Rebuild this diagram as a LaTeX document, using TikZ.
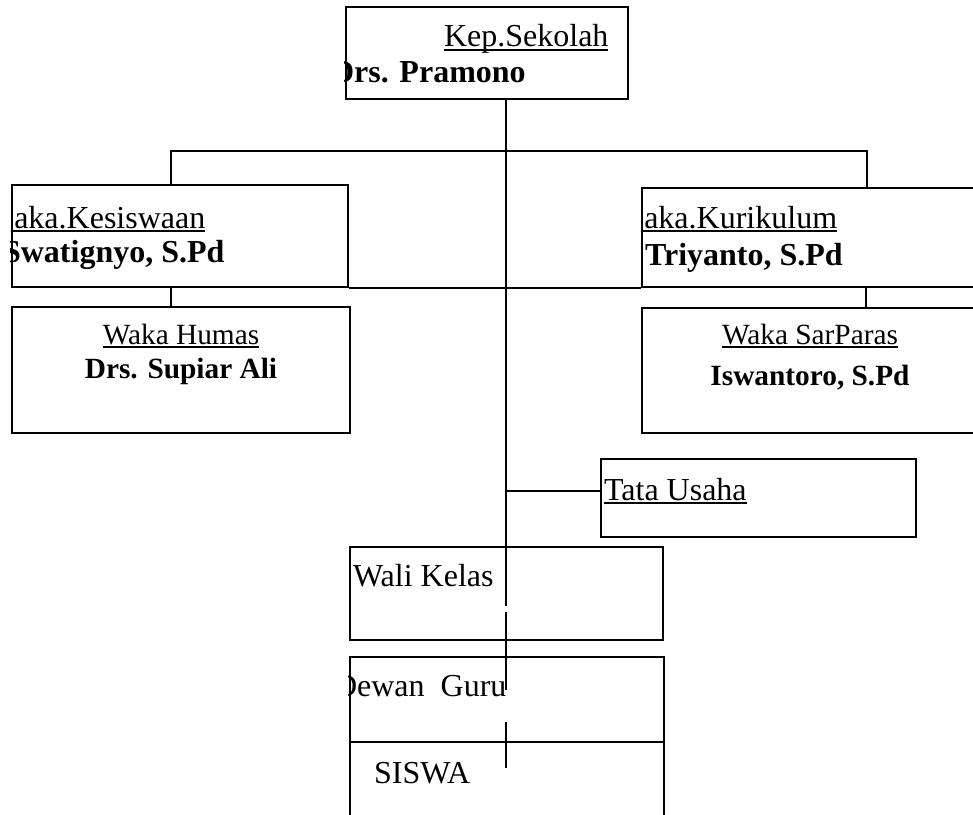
\documentclass[tikz,border=0pt]{standalone}
\usepackage{fontspec}
\setmainfont{Liberation Serif}
\usetikzlibrary{fit}
% garis bawah gaya Word
\newcommand{\garis}[1]{\setbox0=\hbox{#1}\rlap{\rule[-1.6pt]{\wd0}{0.7pt}}\box0}

\begin{document}
\begin{tikzpicture}[x=0.375pt, y=-0.375pt, line width=0.8pt,
    box/.style={draw, inner sep=0pt, line width=0.8pt},
    teks/.style={inner sep=0pt, font=\fontsize{12}{14}\selectfont},
    nama/.style={inner sep=0pt, font=\fontsize{12}{14}\selectfont\bfseries},
    kecil/.style={inner sep=0pt, font=\fontsize{11}{13}\selectfont},
    kecilb/.style={inner sep=0pt, font=\fontsize{11}{13}\selectfont\bfseries}]
  \useasboundingbox (0,0) rectangle (973,814);
  \clip (0,0) rectangle (973,814);

  % 1. Kotak
  \node[box, fit={(346,7) (628,99)}] (kep) {};
  \node[box, fit={(12,185) (348,287)}] (kes) {};
  \node[box, fit={(12,307) (350,433)}] (hum) {};
  \node[box, fit={(642,188) (990,287)}] (kur) {};
  \node[box, fit={(642,308) (990,433)}] (sar) {};
  \node[box, fit={(601,459) (916,537)}] (tu) {};
  \node[box, fit={(350,547) (663,640)}] (wali) {};
  \node[box, fit={(350,657) (664,742)}] (dewan) {};
  \node[box, fit={(350,742) (664,840)}] (siswa) {};

  % 2. Teks (terpotong oleh kotak)
  \begin{scope}
    \clip (kep.north west) rectangle (kep.south east);
    \node[teks, anchor=base west] (kepj) at (443,47) {\garis{Kep.Sekolah}};
    \node[nama, anchor=base west] (kepn) at (330,82) {Drs. Pramono};
  \end{scope}
  \begin{scope}
    \clip (kes.north west) rectangle (kes.south east);
    \node[teks, anchor=base west] (kesj) at (-25,228) {\garis{W\kern3pt aka.Kesiswaan}};
    \node[nama, anchor=base west] (kesn) at (2,262) {Swatignyo, S.Pd};
  \end{scope}
  \begin{scope}
    \clip (kur.north west) rectangle (kur.south east);
    \node[teks, anchor=base west] (kurj) at (605,228) {\garis{W\kern3pt aka.Kurikulum}};
    \node[nama, anchor=base west] (kurn) at (644,265) {Triyanto, S.Pd};
  \end{scope}
  \begin{scope}
    \clip (dewan.north west) rectangle (dewan.south east);
    \node[teks, anchor=base west] (dewanj) at (333,696) {Dewan\ \ Guru};
  \end{scope}

  \node[kecil, anchor=base] (humj) at (181,344) {\garis{Waka Humas}};
  \node[kecilb, anchor=base] (humn) at (181,378) {Drs. Supiar Ali};
  \node[kecil, anchor=base] (sarj) at (810,344) {\garis{Waka SarParas}};
  \node[kecilb, anchor=base] (sarn) at (810,385) {Iswantoro, S.Pd};
  \node[teks, anchor=base west] (tuj) at (603,500) {\garis{Tata Usaha}};
  \node[teks, anchor=base west] (walij) at (352,586) {Wali Kelas};
  \node[teks, anchor=base west] (siswaj) at (373,783) {SISWA};

  % 3. Garis penghubung
  \coordinate (kep-s) at (506,99);
  \coordinate (kes-n) at (171,185);
  \coordinate (kur-n) at (867,188);
  \coordinate (kes-s) at (171,287);
  \coordinate (hum-n) at (171,307);
  \coordinate (kur-s) at (866,287);
  \coordinate (sar-n) at (866,308);
  \coordinate (tu-j) at (506,491);

  \draw (kes-n) -- ++(0,-34) -| (kur-n);
  \draw (kes-s) -- (hum-n);
  \draw (kur-s) -- (sar-n);
  \draw (kes.south east) -- (kur.south west);
  \draw (kep-s) -- (506,606) (506,612) -- (506,690) (506,722) -- (506,768);
  \draw (tu-j) -- (tu-j -| tu.west);
\end{tikzpicture}
\end{document}
